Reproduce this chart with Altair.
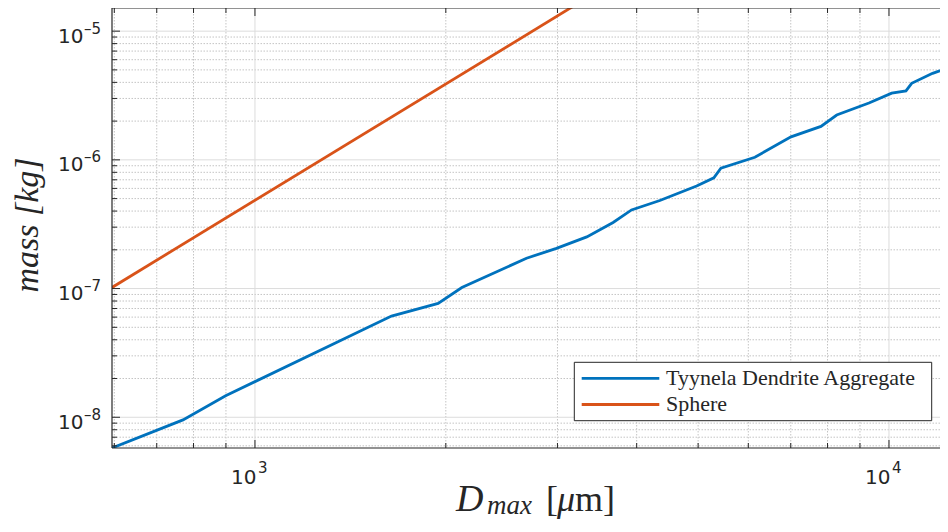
import altair as alt
import pandas as pd

# ---------------- data ----------------
series_names = ["Tyynela Dendrite Aggregate", "Sphere"]
series_colors = ["#0072BD", "#D95319"]

tyynela_d = [595, 770, 899, 1642, 1945, 2120, 2681, 2989, 3337, 3672, 3926, 4351,
             4973, 5294, 5431, 6145, 7006, 7811, 8271, 9299, 10099, 10636, 10859,
             11716, 12393]
tyynela_m = [5.77e-9, 9.54e-9, 1.47e-8, 6.11e-8, 7.66e-8, 1.018e-7, 1.72e-7, 2.05e-7,
             2.52e-7, 3.26e-7, 4.08e-7, 4.83e-7, 6.26e-7, 7.25e-7, 8.62e-7, 1.048e-6,
             1.51e-6, 1.82e-6, 2.23e-6, 2.765e-6, 3.294e-6, 3.436e-6, 3.934e-6,
             4.70e-6, 5.20e-6]

sphere_d = [595, 3300]
sphere_m = [1.02e-7, 1.75e-5]

x_domain = [595, 12036]
y_domain = [5.77e-9, 1.513e-5]

x_major = [1000, 10000]
x_major_exp = ["3", "4"]
x_minor = [600, 700, 800, 900, 2000, 3000, 4000, 5000, 6000, 7000, 8000, 9000]

y_major = [1e-8, 1e-7, 1e-6, 1e-5]
y_major_exp = ["–8", "–7", "–6", "–5"]
y_minor = [6e-9, 7e-9, 8e-9, 9e-9,
           2e-8, 3e-8, 4e-8, 5e-8, 6e-8, 7e-8, 8e-8, 9e-8,
           2e-7, 3e-7, 4e-7, 5e-7, 6e-7, 7e-7, 8e-7, 9e-7,
           2e-6, 3e-6, 4e-6, 5e-6, 6e-6, 7e-6, 8e-6, 9e-6]

# ---------------- layout ----------------
W, H = 828, 440
AX = "#262626"
TICK_FONT = "DejaVu Sans"
SERIF = "Liberation Serif"

xs = alt.Scale(type="log", domain=x_domain, nice=False)
ys = alt.Scale(type="log", domain=y_domain, nice=False)


def X(f):
    return alt.X(f"{f}:Q", scale=xs, axis=None)


def Y(f):
    return alt.Y(f"{f}:Q", scale=ys, axis=None)


one = pd.DataFrame({"a": [0]})
df_xmaj = pd.DataFrame({"v": x_major, "base": ["10"] * len(x_major), "exp": x_major_exp})
df_xmin = pd.DataFrame({"v": x_minor})
df_ymaj = pd.DataFrame({"v": y_major, "base": ["10"] * len(y_major), "exp": y_major_exp})
df_ymin = pd.DataFrame({"v": y_minor})

layers = []

# grid
layers.append(alt.Chart(df_xmin).mark_rule(color="#c4c4c4", strokeDash=[1.5, 1.5], strokeWidth=1).encode(x=X("v")))
layers.append(alt.Chart(df_ymin).mark_rule(color="#c4c4c4", strokeDash=[1.5, 1.5], strokeWidth=1).encode(y=Y("v")))
layers.append(alt.Chart(df_xmaj).mark_rule(color="#dcdcdc", strokeWidth=1).encode(x=X("v")))
layers.append(alt.Chart(df_ymaj).mark_rule(color="#dcdcdc", strokeWidth=1).encode(y=Y("v")))

# data lines
series = [(tyynela_d, tyynela_m), (sphere_d, sphere_m)]
for (d, m), name, col in zip(series, series_names, series_colors):
    df = pd.DataFrame({"D": d, "m": m, "name": name})
    layers.append(alt.Chart(df).mark_line(clip=True, strokeWidth=2.8, color=col).encode(x=X("D"), y=Y("m")))

# axis box (top, left, bottom)
box = alt.Chart(one)
layers.append(box.mark_rule(color=AX, strokeWidth=1.2).encode(x=alt.value(0), x2=alt.value(W + 20), y=alt.value(0)))
layers.append(box.mark_rule(color=AX, strokeWidth=1.2).encode(x=alt.value(0), x2=alt.value(W + 20), y=alt.value(H)))
layers.append(box.mark_rule(color=AX, strokeWidth=1.2).encode(x=alt.value(0), y=alt.value(0), y2=alt.value(H)))

# inward ticks
for df, size in [(df_xmaj, 8), (df_xmin, 5)]:
    c = alt.Chart(df).mark_rule(color=AX, strokeWidth=1)
    layers.append(c.encode(x=X("v"), y=alt.value(H), y2=alt.value(H - size)))
    layers.append(c.encode(x=X("v"), y=alt.value(0), y2=alt.value(size)))
for df, size in [(df_ymaj, 8), (df_ymin, 5)]:
    c = alt.Chart(df).mark_rule(color=AX, strokeWidth=1)
    layers.append(c.encode(y=Y("v"), x=alt.value(0), x2=alt.value(size)))

# tick labels  10^n
layers.append(alt.Chart(df_xmaj).mark_text(font=TICK_FONT, fontSize=20, color=AX, align="right",
                                           baseline="alphabetic", dx=1.5)
              .encode(x=X("v"), y=alt.value(H + 36), text="base:N"))
layers.append(alt.Chart(df_xmaj).mark_text(font=TICK_FONT, fontSize=15, color=AX, align="left",
                                           baseline="alphabetic", dx=3)
              .encode(x=X("v"), y=alt.value(H + 25), text="exp:N"))
layers.append(alt.Chart(df_ymaj).mark_text(font=TICK_FONT, fontSize=20, color=AX, align="right",
                                           baseline="alphabetic", dy=11.4)
              .encode(y=Y("v"), x=alt.value(-28.5), text="base:N"))
layers.append(alt.Chart(df_ymaj).mark_text(font=TICK_FONT, fontSize=15, color=AX, align="left",
                                           baseline="alphabetic", dy=2.4)
              .encode(y=Y("v"), x=alt.value(-28), text="exp:N"))

# axis titles
layers.append(box.mark_text(font=SERIF, fontStyle="italic", fontSize=34, color=AX, angle=270,
                            align="center", baseline="middle")
              .encode(x=alt.value(-84), y=alt.value(217), text=alt.value("mass [kg]")))

title_parts = [("D", 344, 503, 38, "italic"),
               ("max", 375, 506, 27, "italic"),
               ("[", 434, 503, 36, "normal"),
               ("μ", 445, 503, 36, "italic"),
               ("m]", 463, 503, 36, "normal")]
for txt, px, py, fs, st in title_parts:
    layers.append(box.mark_text(font=SERIF, fontStyle=st, fontSize=fs, color=AX, align="left",
                                baseline="alphabetic")
                  .encode(x=alt.value(px), y=alt.value(py), text=alt.value(txt)))

# legend
layers.append(box.mark_rect(fill="white", stroke=AX, strokeWidth=1)
              .encode(x=alt.value(462.3), x2=alt.value(819.7), y=alt.value(354.3), y2=alt.value(412.7)))
for i, (name, col) in enumerate(zip(series_names, series_colors)):
    yy = 370.3 + 26.2 * i
    layers.append(box.mark_rule(color=col, strokeWidth=2.8)
                  .encode(x=alt.value(469.7), x2=alt.value(547.3), y=alt.value(yy)))
    layers.append(box.mark_text(font=SERIF, fontSize=22, color=AX, align="left", baseline="alphabetic")
                  .encode(x=alt.value(554), y=alt.value(yy + 6.2), text=alt.value(name)))

chart = alt.layer(*layers).properties(
    width=W, height=H,
    autosize=alt.AutoSizeParams(type="none"),
    padding={"left": 104, "top": 0, "right": 0, "bottom": 76},
).configure_view(stroke=None)

chart.save("out.html", embed_options={"renderer": "svg", "actions": False})
